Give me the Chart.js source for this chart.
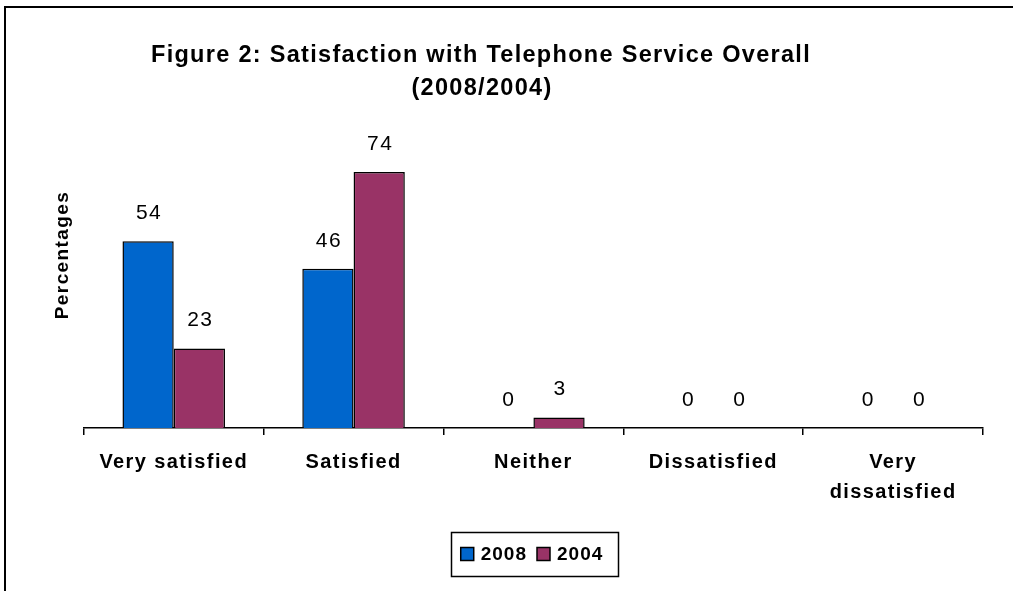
<!DOCTYPE html>
<html>
<head>
<meta charset="utf-8">
<title>Satisfaction with Telephone Service Overall</title>
<script src="https://cdn.jsdelivr.net/npm/chart.js@4.4.1/dist/chart.umd.min.js"></script>
<style>
    html, body { margin: 0; padding: 0; background: #fff; }
    #wrap { position: relative; width: 1013px; height: 591px; }
</style>
</head>
<body>
<div id="wrap"><canvas id="satChart" width="1013" height="591"></canvas></div>
<script>
// Survey results (percent of respondents)
const categories = ['Very satisfied', 'Satisfied', 'Neither', 'Dissatisfied', ['Very', 'dissatisfied']];
const seriesNames = ['2008', '2004'];
const values2008 = [54, 46, 0, 0, 0];
const values2004 = [23, 74, 3, 0, 0];
const yMin = 0;
const yMax = 100;

const titleLines = ['Figure 2: Satisfaction with Telephone Service Overall', '(2008/2004)'];
const axisTitle = 'Percentages';

const BLUE = '#0066CC';
const MAROON = '#993366';
const FONT = "'Liberation Sans', Arial, sans-serif";

// Wider letter spacing for all the chart's text
const spacingPlugin = {
    id: 'spacing',
    beforeUpdate(chart) { chart.ctx.letterSpacing = '1.4px'; },
    beforeDraw(chart) { chart.ctx.letterSpacing = '1.4px'; }
};

// Outer frame, heading and boxed legend
const decorPlugin = {
    id: 'decor',
    beforeDraw(chart) {
        const ctx = chart.ctx;
        ctx.save();
        ctx.strokeStyle = '#000';
        ctx.lineWidth = 2;
        ctx.beginPath();
        ctx.moveTo(5, chart.height);
        ctx.lineTo(5, 7);
        ctx.lineTo(chart.width, 7);
        ctx.stroke();
        ctx.restore();
    },
    afterDraw(chart) {
        const ctx = chart.ctx;
        ctx.save();
        ctx.letterSpacing = '1.3px';
        ctx.fillStyle = '#000';
        ctx.textAlign = 'center';
        ctx.textBaseline = 'middle';
        ctx.font = 'bold 23.5px ' + FONT;
        ctx.fillText(titleLines[0], 481, 56);
        ctx.fillText(titleLines[1], 482, 89);

        // legend
        const colors = [BLUE, MAROON];
        ctx.letterSpacing = '1px';
        ctx.font = 'bold 19px ' + FONT;
        ctx.textAlign = 'left';
        const sw = 13, gap = 7, itemGap = 10;
        const widths = seriesNames.map(n => sw + gap + ctx.measureText(n).width);
        const total = widths.reduce((a, b) => a + b, 0) + itemGap;
        const cx = 532, cy = 554;
        let x = cx - total / 2;
        ctx.lineWidth = 1.5;
        ctx.strokeStyle = '#000';
        ctx.strokeRect(451.5, 532.5, 167, 44);
        seriesNames.forEach((n, i) => {
            ctx.fillStyle = colors[i];
            ctx.fillRect(x, cy - sw / 2, sw, sw);
            ctx.lineWidth = 1.5;
            ctx.strokeRect(x, cy - sw / 2, sw, sw);
            ctx.fillStyle = '#000';
            ctx.fillText(n, x + sw + gap, cy + 1);
            x += widths[i] + itemGap;
        });
        ctx.restore();
    }
};

// Value labels above each bar
const valueLabels = {
    id: 'valueLabels',
    afterDatasetsDraw(chart) {
        const ctx = chart.ctx;
        ctx.save();
        ctx.letterSpacing = '1.5px';
        ctx.font = '21px ' + FONT;
        ctx.fillStyle = '#000';
        ctx.textAlign = 'center';
        ctx.textBaseline = 'middle';
        chart.data.datasets.forEach((ds, i) => {
            chart.getDatasetMeta(i).data.forEach((bar, j) => {
                ctx.fillText(String(ds.data[j]), bar.x + 1, bar.y - 28);
            });
        });
        ctx.restore();
    }
};

new Chart(document.getElementById('satChart'), {
    type: 'bar',
    data: {
        labels: categories,
        datasets: [
            {
                label: seriesNames[0],
                data: values2008,
                backgroundColor: BLUE,
                borderColor: '#000',
                borderWidth: 1.5
            },
            {
                label: seriesNames[1],
                data: values2004,
                backgroundColor: MAROON,
                borderColor: '#000',
                borderWidth: 1.5
            }
        ]
    },
    options: {
        responsive: false,
        animation: false,
        events: [],
        layout: {
            padding: { top: 82, left: 47, right: 30, bottom: 72 }
        },
        datasets: {
            bar: {
                categoryPercentage: 0.57,
                barPercentage: 1
            }
        },
        plugins: {
            legend: { display: false },
            title: { display: false },
            tooltip: { enabled: false }
        },
        scales: {
            x: {
                grid: {
                    display: true,
                    offset: true,
                    drawOnChartArea: false,
                    drawTicks: true,
                    tickLength: 7,
                    color: '#000',
                    lineWidth: 1.5
                },
                border: { display: true, color: '#000', width: 1.5 },
                ticks: {
                    color: '#000',
                    padding: 12,
                    maxRotation: 0,
                    autoSkip: false,
                    font: { family: FONT, size: 20, weight: 'bold', lineHeight: 1.5 }
                }
            },
            y: {
                min: yMin,
                max: yMax,
                grid: { display: false, drawTicks: false },
                border: { display: false },
                ticks: { display: false },
                title: {
                    display: true,
                    text: axisTitle,
                    color: '#000',
                    padding: { top: 4, bottom: 10 },
                    font: { family: FONT, size: 19, weight: 'bold' }
                }
            }
        }
    },
    plugins: [spacingPlugin, decorPlugin, valueLabels]
});
</script>
</body>
</html>
